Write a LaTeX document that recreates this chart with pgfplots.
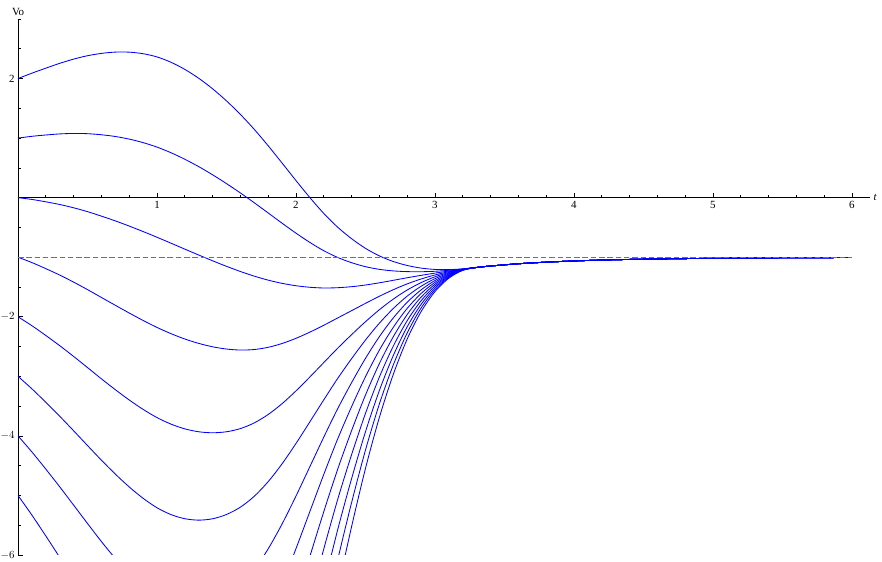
\documentclass[border=0pt]{standalone}
\usepackage{pgfplots}
\pgfplotsset{compat=1.18}
\usepackage{pgfplotstable}
\usepackage{fontspec}
\setmainfont{Liberation Serif}
\usetikzlibrary{calc}
\definecolor{dashc}{rgb}{0.7,0.3,0.52}
\pgfplotstableread{
t a b c d e f g h i j k l m
0.0 2 1 0 -1 -2 -3 -4 -5 -6 -7 -8 -9 -10
0.1 2.09 1.03 -0.03 -1.09 -2.15 -3.21 -4.27 -5.33 -6.39 -7.45 -8.51 -9.57 -10.63
0.2 2.174 1.052 -0.07 -1.192 -2.314 -3.436 -4.558 -5.68 -6.802 -7.924 -9.046 -10.168 -11.29
0.3 2.255 1.07 -0.115 -1.30 -2.485 -3.67 -4.855 -6.04 -7.225 -8.41 -9.595 -10.78 -11.965
0.4 2.326 1.078 -0.17 -1.418 -2.666 -3.914 -5.162 -6.41 -7.658 -8.906 -10.154 -11.402 -12.65
0.5 2.383 1.074 -0.235 -1.544 -2.853 -4.162 -5.471 -6.78 -8.089 -9.398 -10.707 -12.016 -13.325
0.6 2.422 1.056 -0.31 -1.676 -3.042 -4.408 -5.774 -7.14 -8.506 -9.872 -11.238 -12.604 -13.97
0.7 2.444 1.027 -0.39 -1.807 -3.224 -4.641 -6.058 -7.475 -8.892 -10.309 -11.726 -13.143 -14.56
0.8 2.443 0.983 -0.477 -1.937 -3.397 -4.857 -6.317 -7.777 -9.237 -10.697 -12.157 -13.617 -15.077
0.9 2.417 0.924 -0.569 -2.062 -3.555 -5.048 -6.541 -8.034 -9.527 -11.02 -12.513 -14.006 -15.499
1.0 2.363 0.849 -0.665 -2.179 -3.693 -5.207 -6.721 -8.235 -9.749 -11.263 -12.777 -14.291 -15.805
1.1 2.274 0.755 -0.764 -2.283 -3.802 -5.321 -6.84 -8.359 -9.878 -11.397 -12.916 -14.435 -15.954
1.2 2.154 0.645 -0.864 -2.373 -3.882 -5.391 -6.9 -8.409 -9.918 -11.427 -12.936 -14.445 -15.954
1.3 2.005 0.521 -0.963 -2.447 -3.931 -5.415 -6.899 -8.383 -9.867 -11.351 -12.835 -14.319 -15.803
1.4 1.828 0.384 -1.06 -2.504 -3.948 -5.392 -6.836 -8.28 -9.724 -11.168 -12.612 -14.056 -15.5
1.5 1.625 0.236 -1.153 -2.542 -3.931 -5.32 -6.709 -8.098 -9.487 -10.876 -12.265 -13.654 -15.043
1.6 1.398 0.079 -1.24 -2.559 -3.878 -5.197 -6.516 -7.835 -9.154 -10.473 -11.792 -13.111 -14.43
1.7 1.146 -0.086 -1.318 -2.55 -3.782 -5.014 -6.246 -7.478 -8.71 -9.942 -11.174 -12.406 -13.638
1.8 0.871 -0.257 -1.385 -2.513 -3.641 -4.769 -5.897 -7.025 -8.153 -9.281 -10.409 -11.537 -12.665
1.9 0.581 -0.429 -1.439 -2.449 -3.459 -4.469 -5.479 -6.489 -7.499 -8.509 -9.519 -10.529 -11.539
2.0 0.287 -0.596 -1.479 -2.362 -3.245 -4.128 -5.011 -5.894 -6.777 -7.66 -8.543 -9.426 -10.309
2.1 0.001 -0.752 -1.505 -2.258 -3.011 -3.764 -4.517 -5.27 -6.023 -6.776 -7.529 -8.282 -9.035
2.2 -0.265 -0.891 -1.517 -2.143 -2.769 -3.395 -4.021 -4.647 -5.273 -5.899 -6.525 -7.151 -7.777
2.3 -0.496 -1.004 -1.512 -2.02 -2.528 -3.036 -3.544 -4.052 -4.56 -5.068 -5.576 -6.084 -6.592
2.4 -0.689 -1.092 -1.495 -1.898 -2.301 -2.704 -3.107 -3.51 -3.913 -4.316 -4.719 -5.122 -5.525
2.5 -0.851 -1.159 -1.467 -1.775 -2.083 -2.391 -2.699 -3.007 -3.315 -3.623 -3.931 -4.239 -4.547
2.6 -0.978 -1.204 -1.43 -1.656 -1.882 -2.108 -2.334 -2.56 -2.786 -3.012 -3.238 -3.464 -3.69
2.7 -1.072 -1.23 -1.388 -1.546 -1.704 -1.862 -2.02 -2.178 -2.336 -2.494 -2.652 -2.81 -2.968
2.8 -1.139 -1.242 -1.345 -1.448 -1.551 -1.654 -1.757 -1.86 -1.963 -2.066 -2.169 -2.272 -2.375
2.9 -1.183 -1.244 -1.305 -1.366 -1.427 -1.488 -1.549 -1.61 -1.671 -1.732 -1.793 -1.854 -1.915
3.0 -1.205 -1.236 -1.267 -1.298 -1.329 -1.36 -1.391 -1.422 -1.453 -1.484 -1.515 -1.546 -1.577
3.1 -1.208 -1.22 -1.232 -1.244 -1.256 -1.268 -1.28 -1.292 -1.304 -1.316 -1.328 -1.34 -1.352
3.2 -1.196 -1.198 -1.2 -1.202 -1.204 -1.206 -1.208 -1.21 -1.212 -1.214 -1.216 -1.218 -1.22
3.3 -1.172 -1.172 -1.172 -1.172 -1.172 -1.172 -1.172 -1.172 -1.172 -1.172 -1.172 -1.172 -1.172
3.4 -1.148 -1.148 -1.148 -1.148 -1.148 -1.148 -1.148 -1.148 -1.148 -1.148 -1.148 -1.148 -1.148
3.6 -1.11 -1.11 -1.11 -1.11 -1.11 -1.11 -1.11 -1.11 -1.11 -1.11 -1.11 -1.11 -1.11
3.8 -1.083 -1.083 -1.083 -1.083 -1.083 -1.083 -1.083 -1.083 -1.083 -1.083 -1.083 -1.083 -1.083
4.0 -1.063 -1.063 -1.063 -1.063 -1.063 -1.063 -1.063 -1.063 -1.063 -1.063 -1.063 -1.063 -1.063
4.2 -1.048 -1.048 -1.048 -1.048 -1.048 -1.048 -1.048 -1.048 -1.048 -1.048 -1.048 -1.048 -1.048
4.5 -1.033 -1.033 -1.033 -1.033 -1.033 -1.033 -1.033 -1.033 -1.033 -1.033 -1.033 -1.033 -1.033
5.0 -1.018 -1.018 -1.018 -1.018 -1.018 -1.018 -1.018 -1.018 -1.018 -1.018 -1.018 -1.018 -1.018
5.5 -1.01 -1.01 -1.01 -1.01 -1.01 -1.01 -1.01 -1.01 -1.01 -1.01 -1.01 -1.01 -1.01
6.0 -1.005 -1.005 -1.005 -1.005 -1.005 -1.005 -1.005 -1.005 -1.005 -1.005 -1.005 -1.005 -1.005
}\data
\begin{document}
\begin{tikzpicture}
\begin{axis}[
  scale only axis, width=852bp, height=536bp,
  xmin=0, xmax=6.13, ymin=-6, ymax=3,
  axis lines=middle,
  axis line style={-, black, line width=0.6bp},
  xtick={1,2,3,4,5,6},
  minor xtick={0.2,0.4,0.6,0.8,1.2,1.4,1.6,1.8,2.2,2.4,2.6,2.8,3.2,3.4,3.6,3.8,4.2,4.4,4.6,4.8,5.2,5.4,5.6,5.8},
  ytick={-6,-4,-2,2},
  yticklabels={$-6$,$-4$,$-2$,2},
  minor ytick={-5.5,-5,-4.5,-3.5,-3,-2.5,-1.5,-1,-0.5,0.5,1,1.5,2.5,3},
  tick align=inside,
  major tick length=4.5bp, minor tick length=2.8bp,
  tick style={black, line width=0.6bp},
  tick label style={font=\fontsize{11}{13}\selectfont},
  /pgf/number format/assume math mode=true,
  xticklabel style={yshift=-0.5bp},
  xlabel={\textit{t}}, ylabel={Vo},
  every axis x label/.style={at={(current axis.right of origin)}, anchor=west, font=\fontsize{11}{13}\selectfont},
  every axis y label/.style={at={(current axis.above origin)}, anchor=south, font=\fontsize{11}{13}\selectfont, yshift=0bp},
  clip=true,
]
\coordinate (ll) at (rel axis cs:0,0);
\coordinate (ur) at (rel axis cs:1,1);
\foreach \c in {a,b,c,d,e,f,g,h,i,j,k,l,m}{
  \addplot[blue, line width=0.85bp, smooth, no markers] table[x=t, y=\c] {\data};
}
\addplot[dashc, line width=0.9bp, dash pattern=on 5.5bp off 2.8bp, no markers] coordinates {(0,-1) (6,-1)};
\end{axis}
\pgfresetboundingbox
\path ($(ll)+(-18bp,-7bp)$) rectangle ($(ur)+(12bp,19bp)$);
\end{tikzpicture}
\end{document}
